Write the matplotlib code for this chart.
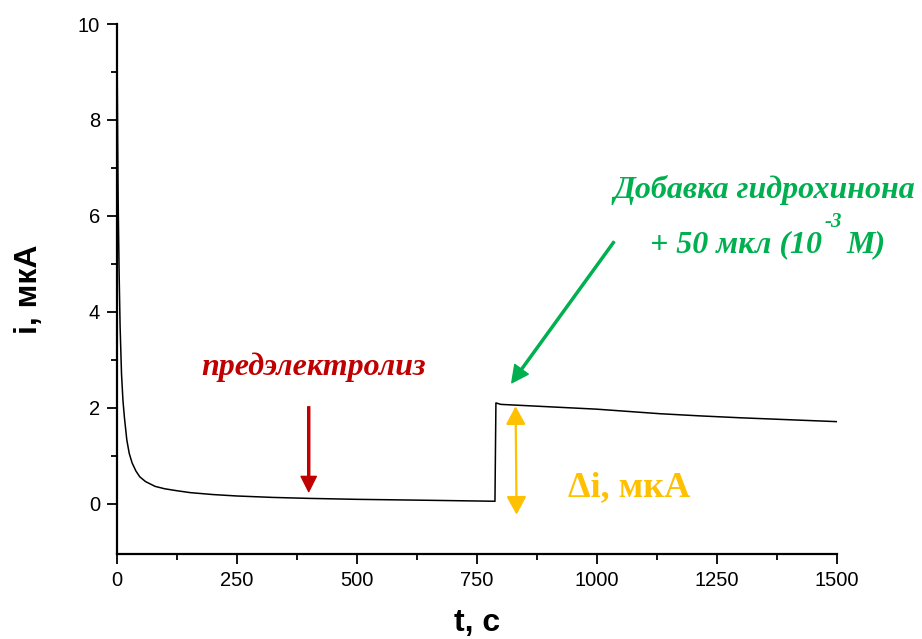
import numpy as np
import matplotlib.pyplot as plt

plt.rcParams['font.family'] = ['Liberation Sans', 'DejaVu Sans']

# chronoamperogram: pre-electrolysis decay, then hydroquinone added
t_pre = [0, 1, 2, 3, 5, 7, 10, 13, 16, 21, 26, 32, 40, 48, 60, 80, 100,
         125, 153, 200, 250, 325, 400, 500, 650, 788]
i_pre = [10.6, 9.0, 7.5, 6.3, 4.8, 3.7, 2.7, 2.15, 1.8, 1.33, 1.05, 0.85,
         0.68, 0.56, 0.46, 0.36, 0.31, 0.27, 0.23, 0.19, 0.16, 0.13, 0.11,
         0.09, 0.07, 0.05]
t_add = [788, 790, 800, 900, 1000, 1132, 1215, 1300, 1400, 1500]
i_add = [0.05, 2.1, 2.07, 2.02, 1.97, 1.875, 1.83, 1.79, 1.75, 1.71]

t = t_pre + t_add
i = i_pre + i_add

red = '#C00000'
green = '#00B050'
orange = '#FFC000'

fig = plt.figure(figsize=(9.22, 6.39), dpi=100)
ax = fig.add_axes([0.1266, 0.133, 0.7809, 0.8294])
ax.plot(t, i, color='black', lw=1.1)

ax.set_xlim(0, 1500)
ax.set_ylim(-1.05, 10)
ax.set_xticks([0, 250, 500, 750, 1000, 1250, 1500])
ax.set_xticks([125, 375, 625, 875, 1125, 1375], minor=True)
ax.set_yticks([0, 2, 4, 6, 8, 10])
ax.set_yticks([1, 3, 5, 7, 9], minor=True)
for s in ['top', 'right']:
    ax.spines[s].set_visible(False)
for s in ['left', 'bottom']:
    ax.spines[s].set_linewidth(1.6)
ax.tick_params(which='major', direction='out', length=7, width=1.3,
               labelsize=14.5, pad=5)
ax.tick_params(which='minor', direction='out', length=4, width=1.3)

ax.set_xlabel('t, c', fontsize=23, fontweight='bold', labelpad=13)
ax.set_ylabel('i, мкА', fontsize=23, fontweight='bold', labelpad=24)

serif = ['Liberation Serif', 'DejaVu Serif']

# pre-electrolysis label and arrow
ax.text(410, 2.68, 'предэлектролиз', color=red, fontsize=23,
        fontweight='bold', fontstyle='italic', family=serif, ha='center')
ax.annotate('', xy=(400, 0.25), xytext=(400, 2.02),
            arrowprops=dict(facecolor=red, edgecolor=red, width=1.5,
                            headwidth=11, headlength=11, shrink=0))

# hydroquinone addition label and arrow
ax.text(1349, 6.37, 'Добавка гидрохинона', color=green, fontsize=23,
        fontweight='bold', fontstyle='italic', family=serif, ha='center')
ax.text(1469, 5.25, '+ 50 мкл (10', color=green, fontsize=23,
        fontweight='bold', fontstyle='italic', family=serif, ha='right')
ax.text(1521, 5.25, 'М)', color=green, fontsize=23,
        fontweight='bold', fontstyle='italic', family=serif, ha='left')
ax.text(1492, 5.77, '-3', color=green, fontsize=15,
        fontweight='bold', fontstyle='italic', family=serif, ha='center')
ax.annotate('', xy=(823, 2.52), xytext=(1036, 5.46),
            arrowprops=dict(facecolor=green, edgecolor=green, width=1.5,
                            headwidth=12, headlength=12, shrink=0))

# current step
ax.annotate('', xy=(831, 2.03), xytext=(833, -0.23),
            arrowprops=dict(arrowstyle='<|-|>,head_length=0.55,head_width=0.3',
                            mutation_scale=20, color=orange, lw=1.6,
                            shrinkA=0, shrinkB=0))
ax.text(1067, 0.15, 'Δi, мкА', color=orange, fontsize=26,
        fontweight='bold', family=serif, ha='center')

fig.savefig('out.png', dpi=100)
